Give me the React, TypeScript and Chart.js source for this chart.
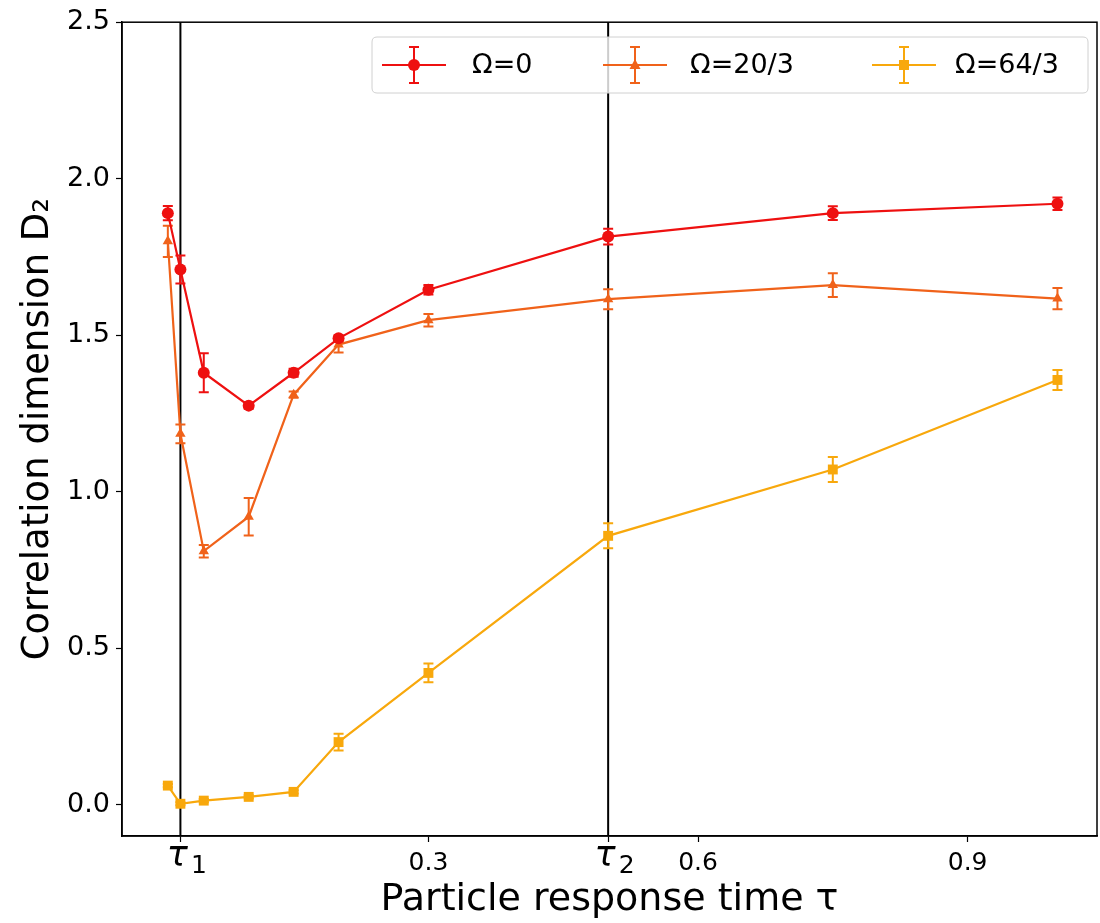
import { useEffect, useRef } from "react";
import { Chart, registerables } from "chart.js";

Chart.register(...registerables);

// ---- data ----
const tau = [0.01, 0.024, 0.05, 0.1, 0.15, 0.2, 0.3, 0.5, 0.75, 1.0];
const d2Omega0 = [1.89, 1.71, 1.38, 1.275, 1.38, 1.49, 1.645, 1.815, 1.89, 1.92];
const errOmega0 = [0.023, 0.045, 0.062, 0.01, 0.013, 0.01, 0.015, 0.025, 0.022, 0.02];
const d2Omega20 = [1.8, 1.185, 0.81, 0.92, 1.31, 1.47, 1.548, 1.615, 1.66, 1.617];
const errOmega20 = [0.05, 0.03, 0.02, 0.06, 0.01, 0.025, 0.02, 0.032, 0.038, 0.034];
const d2Omega64 = [0.061, 0.003, 0.013, 0.025, 0.041, 0.2, 0.421, 0.859, 1.071, 1.357];
const errOmega64 = [0.005, 0.005, 0.005, 0.005, 0.005, 0.027, 0.03, 0.04, 0.04, 0.032];

const seriesLabels = ["Ω=0", "Ω=20/3", "Ω=64/3"];
const seriesColors = ["#ee1010", "#f0621a", "#f8a80c"];
const seriesMarkers = ["circle", "triangle", "rect"];

const xTickValues = [0.024, 0.3, 0.5, 0.6, 0.9];
const xTickLabels = ["", "0.3", "", "0.6", "0.9"];
const tauLabels = [
  { value: 0.024, sub: "1" },
  { value: 0.5, sub: "2" },
];
const yTickValues = [0, 0.5, 1.0, 1.5, 2.0, 2.5];
const verticalLines = [0.024, 0.5];

const values = [d2Omega0, d2Omega20, d2Omega64];
const errors = [errOmega0, errOmega20, errOmega64];

function drawMarker(ctx: CanvasRenderingContext2D, style: string, x: number, y: number, color: string) {
  ctx.save();
  ctx.fillStyle = color;
  ctx.beginPath();
  if (style === "circle") {
    ctx.arc(x, y, 6, 0, Math.PI * 2);
  } else if (style === "triangle") {
    ctx.moveTo(x, y - 6);
    ctx.lineTo(x + 5.5, y + 4);
    ctx.lineTo(x - 5.5, y + 4);
    ctx.closePath();
  } else {
    ctx.rect(x - 5, y - 5, 10, 10);
  }
  ctx.fill();
  ctx.restore();
}

const extrasPlugin = {
  id: "extras",
  beforeDatasetsDraw(chart: any) {
    const { ctx, chartArea, scales } = chart;
    ctx.save();
    ctx.strokeStyle = "#000";
    ctx.lineWidth = 2;
    verticalLines.forEach((v) => {
      const px = scales.x.getPixelForValue(v);
      ctx.beginPath();
      ctx.moveTo(px, chartArea.top);
      ctx.lineTo(px, chartArea.bottom);
      ctx.stroke();
    });
    // error bars
    values.forEach((vals, si) => {
      ctx.strokeStyle = seriesColors[si];
      ctx.lineWidth = 2;
      vals.forEach((v, i) => {
        const px = scales.x.getPixelForValue(tau[i]);
        const y1 = scales.y.getPixelForValue(v - errors[si][i]);
        const y2 = scales.y.getPixelForValue(v + errors[si][i]);
        ctx.beginPath();
        ctx.moveTo(px, y1);
        ctx.lineTo(px, y2);
        ctx.moveTo(px - 5, y1);
        ctx.lineTo(px + 5, y1);
        ctx.moveTo(px - 5, y2);
        ctx.lineTo(px + 5, y2);
        ctx.stroke();
      });
    });
    ctx.restore();
  },
  afterDraw(chart: any) {
    const { ctx, chartArea, scales } = chart;
    ctx.save();
    // frame
    ctx.strokeStyle = "#000";
    ctx.lineWidth = 1.5;
    ctx.strokeRect(chartArea.left, chartArea.top, chartArea.right - chartArea.left, chartArea.bottom - chartArea.top);

    // tau tick labels
    ctx.fillStyle = "#000";
    ctx.textBaseline = "alphabetic";
    tauLabels.forEach((t) => {
      const px = scales.x.getPixelForValue(t.value);
      ctx.font = "italic 35px 'DejaVu Sans'";
      ctx.textAlign = "left";
      const tw = ctx.measureText("τ").width;
      ctx.fillText("τ", px - tw / 2 - 3, chartArea.bottom + 30);
      ctx.font = "25px 'DejaVu Sans'";
      ctx.fillText(t.sub, px + tw / 2, chartArea.bottom + 37);
    });

    // legend
    const bx = 372, by = 37, bw = 716, bh = 56, r = 5;
    ctx.beginPath();
    ctx.moveTo(bx + r, by);
    ctx.lineTo(bx + bw - r, by);
    ctx.quadraticCurveTo(bx + bw, by, bx + bw, by + r);
    ctx.lineTo(bx + bw, by + bh - r);
    ctx.quadraticCurveTo(bx + bw, by + bh, bx + bw - r, by + bh);
    ctx.lineTo(bx + r, by + bh);
    ctx.quadraticCurveTo(bx, by + bh, bx, by + bh - r);
    ctx.lineTo(bx, by + r);
    ctx.quadraticCurveTo(bx, by, bx + r, by);
    ctx.closePath();
    ctx.fillStyle = "rgba(255,255,255,0.8)";
    ctx.fill();
    ctx.strokeStyle = "#d0d0d0";
    ctx.lineWidth = 1;
    ctx.stroke();

    const handleX = [382, 603, 872];
    const textX = [472, 690, 955];
    const cy = by + bh / 2;
    seriesLabels.forEach((lab, i) => {
      const hx = handleX[i];
      const col = seriesColors[i];
      ctx.strokeStyle = col;
      ctx.lineWidth = 2;
      ctx.beginPath();
      ctx.moveTo(hx, cy);
      ctx.lineTo(hx + 64, cy);
      const mx = hx + 32;
      ctx.moveTo(mx, cy - 18);
      ctx.lineTo(mx, cy + 18);
      ctx.moveTo(mx - 5, cy - 18);
      ctx.lineTo(mx + 5, cy - 18);
      ctx.moveTo(mx - 5, cy + 18);
      ctx.lineTo(mx + 5, cy + 18);
      ctx.stroke();
      drawMarker(ctx, seriesMarkers[i], mx, cy, col);
      ctx.fillStyle = "#000";
      ctx.font = "27px 'DejaVu Sans'";
      ctx.textBaseline = "middle";
      ctx.textAlign = "left";
      ctx.fillText(lab, textX[i], cy + 1);
    });
    ctx.restore();
  },
};

export default function App() {
  const ref = useRef<HTMLCanvasElement | null>(null);
  useEffect(() => {
    if (!ref.current) return;
    const chart = new Chart(ref.current, {
      type: "line",
      data: {
        datasets: values.map((vals, si) => ({
          label: seriesLabels[si],
          data: vals.map((v, i) => ({ x: tau[i], y: v })),
          borderColor: seriesColors[si],
          backgroundColor: seriesColors[si],
          borderWidth: 2.2,
          pointStyle: seriesMarkers[si] as any,
          pointRadius: si === 0 ? 6 : si === 1 ? 6 : 7,
          pointBorderWidth: 0,
          pointBackgroundColor: seriesColors[si],
          tension: 0,
          clip: false as any,
        })),
      },
      options: {
        animation: false,
        responsive: true,
        maintainAspectRatio: false,
        layout: { autoPadding: false, padding: { top: 22, right: 3, left: 0, bottom: 0 } },
        plugins: { legend: { display: false }, tooltip: { enabled: false } },
        scales: {
          x: {
            type: "linear",
            min: -0.041,
            max: 1.044,
            afterBuildTicks: (s: any) => {
              s.ticks = xTickValues.map((v) => ({ value: v }));
            },
            afterFit: (s: any) => {
              s.height = 87;
              s.paddingLeft = 0;
              s.paddingRight = 0;
            },
            ticks: {
              autoSkip: false,
              maxRotation: 0,
              padding: 6,
              color: "#000",
              callback: (_v: any, i: number) => xTickLabels[i],
              font: { family: "'DejaVu Sans'", size: 25 },
            },
            grid: { drawOnChartArea: false, drawTicks: true, tickLength: 6, color: "#000", tickWidth: 1.2 },
            border: { display: true, color: "#000", width: 1.5 },
            title: {
              display: true,
              text: "Particle response time τ",
              color: "#000",
              font: { family: "'DejaVu Sans'", size: 38 },
              padding: { top: 0, bottom: 0 },
            },
          },
          y: {
            type: "linear",
            min: -0.1,
            max: 2.5,
            afterBuildTicks: (s: any) => {
              s.ticks = yTickValues.map((v) => ({ value: v }));
            },
            afterFit: (s: any) => {
              s.width = 122;
            },
            ticks: {
              padding: 6,
              color: "#000",
              callback: (v: any) => Number(v).toFixed(1),
              font: { family: "'DejaVu Sans'", size: 27 },
            },
            grid: { drawOnChartArea: false, drawTicks: true, tickLength: 6, color: "#000", tickWidth: 1.2 },
            border: { display: true, color: "#000", width: 1.5 },
            title: {
              display: true,
              text: "Correlation dimension D₂",
              color: "#000",
              font: { family: "'DejaVu Sans'", size: 37 },
              padding: { top: 16, bottom: 0 },
            },
          },
        },
      },
      plugins: [extrasPlugin],
    });
    return () => chart.destroy();
  }, []);
  return (
    <div style={{ position: "absolute", left: 0, top: 0, width: 1100, height: 923, background: "#fff" }}>
      <canvas ref={ref} />
    </div>
  );
}
